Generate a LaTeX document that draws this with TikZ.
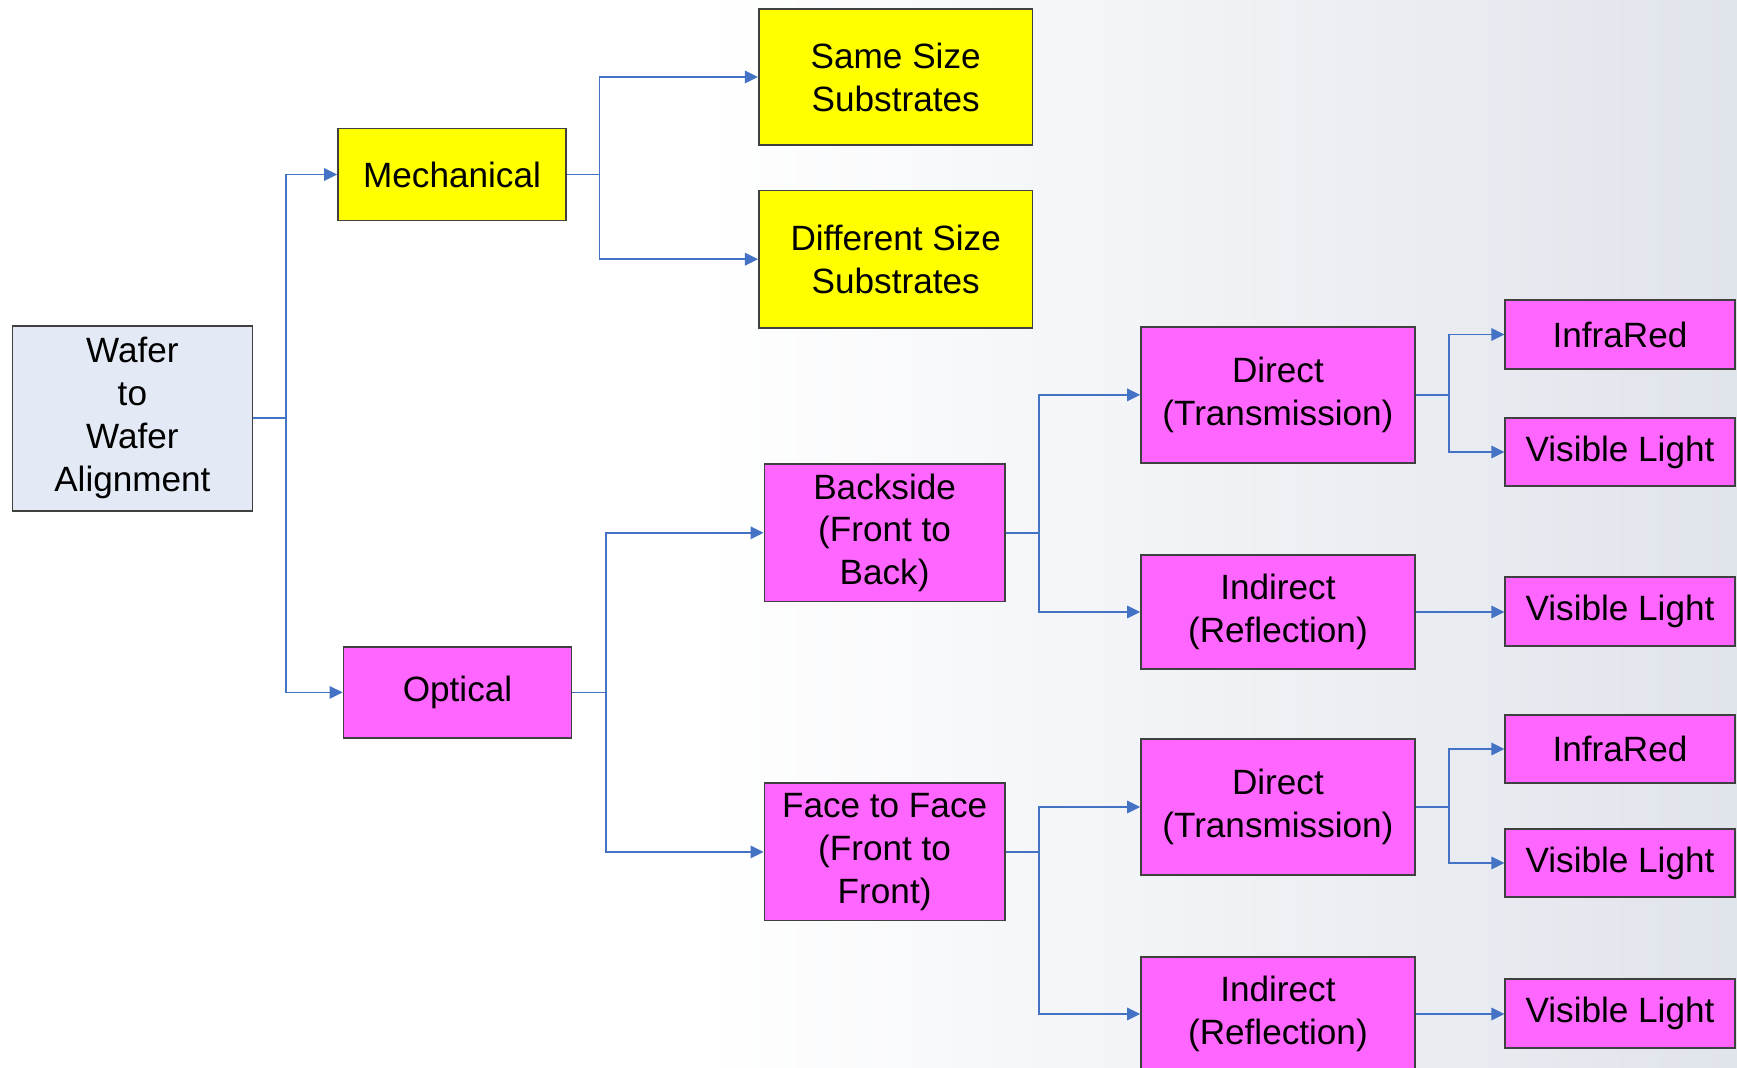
\documentclass[tikz,border=0pt]{standalone}
\usepackage{fontspec}
\setmainfont{Liberation Sans}
\usetikzlibrary{arrows.meta}

\definecolor{boxyellow}{RGB}{255,255,0}
\definecolor{boxpink}{RGB}{255,102,255}
\definecolor{boxblue}{RGB}{228,234,245}
\definecolor{linkblue}{RGB}{68,114,196}
\definecolor{bggray}{RGB}{224,228,235}

\tikzset{
  box/.style={draw=black!75, line width=0.5pt, align=center, inner sep=0pt,
    font=\fontsize{10}{12.2}\selectfont},
  mechbox/.style={box, fill=boxyellow},
  optbox/.style={box, fill=boxpink},
  conn/.style={linkblue, line width=0.45pt, -{Triangle[length=1.3mm,width=1.25mm]}},
}

\begin{document}
\begin{tikzpicture}

	\clip (0,0) rectangle (17.37,-10.68);
	\shade[left color=white, right color=bggray] (7,0) rectangle (17.37,-10.68);

	% root and first level
	\node[box, fill=boxblue, minimum width=2.40cm, minimum height=1.85cm]
        (wafer) at (1.324,-4.182) {Wafer\\ to\\ Wafer\\ Alignment};
	\node[mechbox, minimum width=2.28cm, minimum height=0.92cm]
        (mech) at (4.52,-1.745) {Mechanical};
	\node[optbox, minimum width=2.28cm, minimum height=0.91cm]
        (optical) at (4.575,-6.924) {Optical};

	% mechanical side
	\node[mechbox, minimum width=2.737cm, minimum height=1.363cm]
        (same) at (8.957,-0.77) {Same Size\\ Substrates};
	\node[mechbox, minimum width=2.737cm, minimum height=1.373cm]
        (diff) at (8.957,-2.592) {Different Size\\ Substrates};

	% optical side
	\node[optbox, minimum width=2.404cm, minimum height=1.373cm]
        (back) at (8.846,-5.328) {Backside\\ (Front to\\ Back)};
	\node[optbox, minimum width=2.404cm, minimum height=1.373cm]
        (face) at (8.846,-8.519) {Face to Face\\ (Front to\\ Front)};

	\node[optbox, minimum width=2.737cm, minimum height=1.362cm]
        (directa) at (12.779,-3.949) {Direct\\ (Transmission)};
	\node[optbox, minimum width=2.737cm, minimum height=1.14cm]
        (indirecta) at (12.779,-6.12) {Indirect\\ (Reflection)};
	\node[optbox, minimum width=2.737cm, minimum height=1.362cm]
        (directb) at (12.779,-8.07) {Direct\\ (Transmission)};
	\node[optbox, minimum width=2.737cm, minimum height=1.14cm]
        (indirectb) at (12.779,-10.14) {Indirect\\ (Reflection)};

	\node[optbox, minimum width=2.293cm, minimum height=0.687cm]
        (irA) at (16.20,-3.345) {InfraRed};
	\node[optbox, minimum width=2.293cm, minimum height=0.687cm]
        (visA) at (16.20,-4.52) {Visible Light};
	\node[optbox, minimum width=2.293cm, minimum height=0.687cm]
        (visB) at (16.20,-6.115) {Visible Light};
	\node[optbox, minimum width=2.293cm, minimum height=0.687cm]
        (irC) at (16.20,-7.49) {InfraRed};
	\node[optbox, minimum width=2.293cm, minimum height=0.687cm]
        (visC) at (16.20,-8.63) {Visible Light};
	\node[optbox, minimum width=2.293cm, minimum height=0.687cm]
        (visD) at (16.20,-10.137) {Visible Light};

	% branch columns
	\coordinate (col1) at (2.858,0); \coordinate (col2) at (5.993,0);
	\coordinate (col3) at (6.06,0); \coordinate (col4) at (10.391,0);
	\coordinate (col5) at (14.49,0);

	\draw[conn] (wafer.east) -- (wafer.east -| col1) |- (mech.west);
	\draw[conn] (wafer.east) -- (wafer.east -| col1) |- (optical.west);

	\draw[conn] (mech.east) -- (mech.east -| col2) |- (same.west);
	\draw[conn] (mech.east) -- (mech.east -| col2) |- (diff.west);

	\draw[conn] (optical.east) -- (optical.east -| col3) |- (back.west);
	\draw[conn] (optical.east) -- (optical.east -| col3) |- (face.west);

	\draw[conn] (back.east) -- (back.east -| col4) |- (directa.west);
	\draw[conn] (back.east) -- (back.east -| col4) |- (indirecta.west);
	\draw[conn] (face.east) -- (face.east -| col4) |- (directb.west);
	\draw[conn] (face.east) -- (face.east -| col4) |- (indirectb.west);

	\draw[conn] (directa.east) -- (directa.east -| col5) |- (irA.west);
	\draw[conn] (directa.east) -- (directa.east -| col5) |- (visA.west);
	\draw[conn] (indirecta.east) -- (indirecta.east -| visB.west);
	\draw[conn] (directb.east) -- (directb.east -| col5) |- (irC.west);
	\draw[conn] (directb.east) -- (directb.east -| col5) |- (visC.west);
	\draw[conn] (indirectb.east) -- (indirectb.east -| visD.west);

\end{tikzpicture}
\end{document}
